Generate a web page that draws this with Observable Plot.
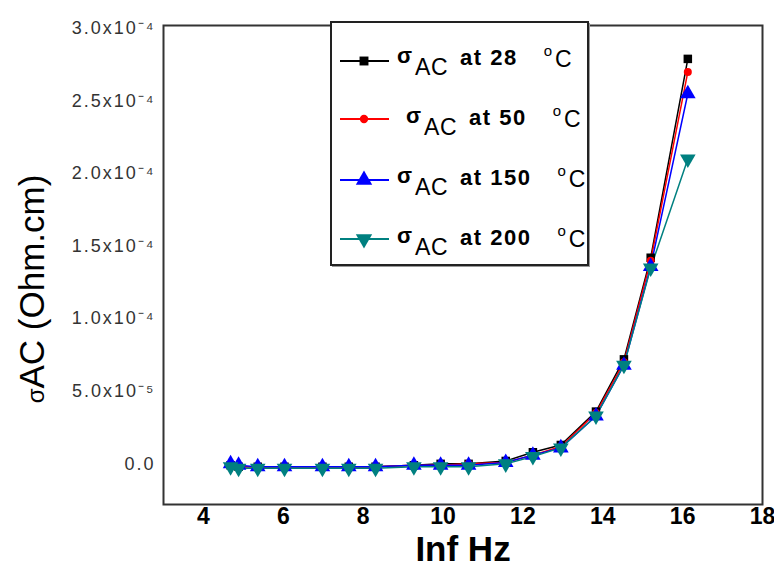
<!DOCTYPE html>
<html>
<head>
<meta charset="utf-8">
<script src="https://cdn.jsdelivr.net/npm/d3@7"></script>
<script src="https://cdn.jsdelivr.net/npm/@observablehq/plot@0.6"></script>
<style>
  body { margin: 0; background: #fff; }
  #wrap { position: relative; width: 774px; height: 576px; font-family: Arial, "Liberation Sans", sans-serif; }
  #wrap svg [aria-label="y-axis tick label"] text { letter-spacing: 2px; font-size: 18px; }
  #legendSvg { position: absolute; left: 329px; top: 20px; }
</style>
</head>
<body>
<div id="wrap"></div>
<script>
// ---- data ----
const freq = [4.68, 4.88, 5.36, 6.03, 6.98, 7.64, 8.31, 9.27, 9.94, 10.64, 11.57, 12.25, 12.95, 13.83, 14.53, 15.2, 16.13];
const s28  = [-0.01, -0.02, -0.02, -0.02, -0.02, -0.02, -0.02, -0.01, 0.0, 0.0, 0.02, 0.08, 0.13, 0.36, 0.72, 1.42, 2.79];
const s50  = [-0.01, -0.02, -0.02, -0.02, -0.02, -0.02, -0.02, -0.01, -0.01, 0.0, 0.01, 0.06, 0.12, 0.35, 0.70, 1.40, 2.70];
const s150 = [0.0, -0.01, -0.02, -0.02, -0.02, -0.02, -0.02, -0.01, -0.01, -0.01, 0.01, 0.06, 0.11, 0.33, 0.68, 1.36, 2.55];
const s200 = [-0.02, -0.03, -0.03, -0.03, -0.03, -0.03, -0.03, -0.02, -0.02, -0.02, 0.0, 0.05, 0.11, 0.33, 0.68, 1.35, 2.10];
const seriesNames = ["28", "50", "150", "200"];
const seriesColors = ["#000000", "#ff0000", "#0000ff", "#008080"];
const xTicks = [4, 6, 8, 10, 12, 14, 16, 18];
const yTicks = [0, 5e-5, 1e-4, 1.5e-4, 2e-4, 2.5e-4, 3e-4];
const yTickLabels = ["0.0", "5.0x10\u207B\u2075", "1.0x10\u207B\u2074", "1.5x10\u207B\u2074", "2.0x10\u207B\u2074", "2.5x10\u207B\u2074", "3.0x10\u207B\u2074"];
const xLabel = "Inf Hz";
const yLabel = "\u03C3AC (Ohm.cm)";

// triangle pointing down
const triDown = {
  draw(context, size) {
    const y = -Math.sqrt(size / (3 * Math.sqrt(3)));
    context.moveTo(0, -y * 2);
    context.lineTo(-Math.sqrt(3) * y, y);
    context.lineTo(Math.sqrt(3) * y, y);
    context.closePath();
  }
};
const symbols = ["square", "circle", "triangle", triDown];
const radii = [4.8, 4, 5.8, 5.8];

const allSeries = [s28, s50, s150, s200];
const data = [];
allSeries.forEach((arr, si) => arr.forEach((v, i) => data.push({f: freq[i], v: v * 1e-4, s: si})));

const marks = [Plot.frame({stroke: "#333", strokeWidth: 2})];
allSeries.forEach((arr, si) => {
  const d = data.filter(p => p.s === si);
  marks.push(Plot.line(d, {x: "f", y: "v", stroke: seriesColors[si], strokeWidth: 1.5}));
});
allSeries.forEach((arr, si) => {
  const d = data.filter(p => p.s === si);
  marks.push(Plot.dot(d, {x: "f", y: "v", fill: seriesColors[si], stroke: "none", symbol: symbols[si], r: radii[si]}));
});
marks.push(Plot.axisY({ticks: yTicks, tickFormat: (d) => yTickLabels[yTicks.indexOf(d)], tickSize: 0, tickPadding: 8, label: null, fontSize: 18, color: "#333"}));
marks.push(Plot.axisX({ticks: xTicks, tickFormat: d => String(d), tickSize: 0, tickPadding: 3, label: null, fontSize: 23, fontWeight: "bold", color: "#000"}));
marks.push(Plot.text([xLabel], {frameAnchor: "bottom", dy: 56, fontSize: 35, fontWeight: "bold", fill: "#000", text: d => d}));
marks.push(Plot.text([yLabel], {frameAnchor: "left", textAnchor: "middle", dx: -131, dy: 24, rotate: -90, fontSize: 35, fill: "#000", text: d => d}));

const chart = Plot.plot({
  width: 774,
  height: 576,
  marginLeft: 163,
  marginRight: 12,
  marginTop: 25,
  marginBottom: 72,
  style: {fontFamily: "Arial, 'Liberation Sans', sans-serif", background: "#fff"},
  x: {domain: [3, 18]},
  y: {domain: [-2.8e-5, 3.02e-4]},
  marks
});
const wrap = document.getElementById("wrap");
wrap.appendChild(chart);

// make the sigma of the y label smaller
d3.select(chart).selectAll("text").filter(function () { return this.textContent === yLabel; }).each(function () {
  const t = d3.select(this);
  t.text(null);
  t.append("tspan").attr("font-size", 24).text("\u03C3");
  t.append("tspan").text("AC (Ohm.cm)");
});

// legend (SVG overlay)
const lg = d3.create("svg").attr("id", "legendSvg").attr("width", 264).attr("height", 250)
  .style("font-family", "Arial, 'Liberation Sans', sans-serif");
lg.append("rect").attr("x", 3).attr("y", 3).attr("width", 258).attr("height", 244).attr("fill", "#999");
lg.append("rect").attr("x", 2).attr("y", 2).attr("width", 257).attr("height", 243).attr("fill", "#fff").attr("stroke", "#222").attr("stroke-width", 2);
const lineY = [41, 99, 160, 219];
const baseY = [45, 105, 165, 225];
const textX = [68, 77, 68, 68];
const symMap = {square: d3.symbolSquare, circle: d3.symbolCircle, triangle: d3.symbolTriangle};
seriesNames.forEach((name, si) => {
  lg.append("line").attr("x1", 11).attr("x2", 60).attr("y1", lineY[si]).attr("y2", lineY[si])
    .attr("stroke", seriesColors[si]).attr("stroke-width", 2);
  const sym = typeof symbols[si] === "string" ? symMap[symbols[si]] : symbols[si];
  lg.append("path").attr("transform", `translate(35,${lineY[si]})`)
    .attr("d", d3.symbol(sym, Math.PI * radii[si] * radii[si] * 1.1)()).attr("fill", seriesColors[si]);
  const t = lg.append("text").attr("x", textX[si]).attr("y", baseY[si]).attr("fill", "#000").attr("font-size", 22);
  t.append("tspan").attr("font-weight", "bold").attr("dy", -2).text("\u03C3");
  t.append("tspan").attr("dy", 12).attr("dx", 3).attr("font-size", 23).attr("letter-spacing", 0.5).text("AC");
  t.append("tspan").attr("dy", -10).attr("dx", 12).attr("font-weight", "bold").attr("letter-spacing", 1.5).text("at " + name);
  t.append("tspan").attr("dy", -9).attr("dx", 26).attr("font-size", 15).text("o");
  t.append("tspan").attr("dy", 11).attr("dx", 3).attr("font-size", 23).text("C");
});
wrap.appendChild(lg.node());
</script>
</body>
</html>
